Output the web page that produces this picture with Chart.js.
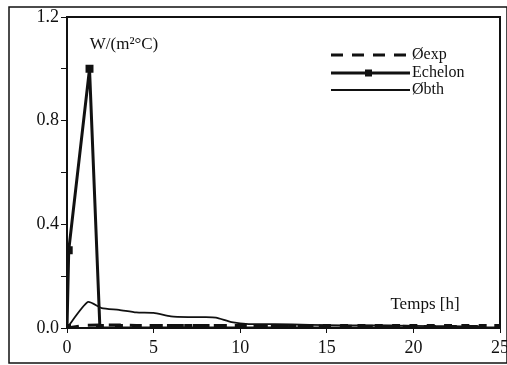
<!DOCTYPE html>
<html>
<head>
<meta charset="utf-8">
<script src="https://cdn.jsdelivr.net/npm/chart.js@4/dist/chart.umd.min.js"></script>
<style>
  html, body { margin: 0; padding: 0; background: #fff; }
  #wrap { width: 507px; height: 365px; }
</style>
</head>
<body>
<div id="wrap"><canvas id="fluxChart" width="507" height="365"></canvas></div>
<script>
// valeurs
const expTimes = [0, 1, 2, 3, 4, 5, 6, 7, 8, 9, 10, 11, 12, 13, 14, 15, 16, 17, 18, 19, 20, 21, 22, 23, 24];
const expValues = [0, 0.01, 0.012, 0.012, 0.01, 0.01, 0.01, 0.01, 0.01, 0.01, 0.01, 0.008, 0.008, 0.008, 0.008, 0.007, 0.007, 0.007, 0.007, 0.007, 0.006, 0.006, 0.006, 0.006, 0.006];

const echelonTimes = [0, 0.1, 1.3, 1.9, 3, 4, 5, 6, 7, 8, 9, 10, 11, 12, 13, 14, 15, 16, 17, 18, 19, 20, 21, 22, 23, 24, 24.9];
const echelonValues = [0, 0.3, 1.0, 0, 0, 0, 0, 0, 0, 0, 0, 0, 0, 0, 0, 0, 0, 0, 0, 0, 0, 0, 0, 0, 0, 0, 0];

const bthTimes = [0, 1.2, 2, 3, 4, 5, 6, 7, 8, 8.6, 9.5, 10.5, 12, 14, 16, 18, 20, 22, 24];
const bthValues = [0, 0.1, 0.077, 0.07, 0.06, 0.058, 0.045, 0.042, 0.042, 0.04, 0.023, 0.015, 0.015, 0.012, 0.01, 0.01, 0.008, 0.007, 0.006];

const xTicks = [0, 5, 10, 15, 20, 25];
const yTickLabels = ['0.0', '0.4', '0.8', '1.2'];

const legendLabels = ['Øexp', 'Echelon', 'Øbth'];
const unitLabel = 'W/(m²°C)';
const timeLabel = 'Temps [h]';

const FONT = '"Liberation Serif", "DejaVu Serif", serif';

function toPoints(xs, ys) {
  return xs.map((x, i) => ({ x: x, y: ys[i] }));
}

// cadre, legende et textes dans le graphique
const decorPlugin = {
  id: 'decor',
  afterDraw(chart) {
    const ctx = chart.ctx;
    const a = chart.chartArea;
    ctx.save();
    ctx.strokeStyle = '#111';
    ctx.lineWidth = 2;
    ctx.strokeRect(a.left, a.top, a.right - a.left, a.bottom - a.top);
    ctx.lineWidth = 1.5;
    ctx.strokeRect(9, 7, chart.width - 9, chart.height - 9);

    ctx.fillStyle = '#111';
    ctx.font = '17px ' + FONT;
    ctx.textBaseline = 'middle';
    ctx.textAlign = 'center';
    ctx.fillText(unitLabel, 124, 45);
    ctx.fillText(timeLabel, 425, 305);

    // legende
    const rows = [55, 73, 90];
    ctx.font = '16px ' + FONT;
    chart.data.datasets.forEach((ds, i) => {
      const y = rows[i];
      ctx.strokeStyle = ds.borderColor;
      ctx.lineWidth = ds.borderWidth;
      ctx.setLineDash(ds.borderDash || []);
      ctx.beginPath();
      ctx.moveTo(331, y);
      ctx.lineTo(410, y);
      ctx.stroke();
      ctx.setLineDash([]);
      if (ds.legendMarker) {
        ctx.fillRect(365, y - 3.5, 7, 7);
      }
      ctx.textAlign = 'left';
      ctx.fillText(legendLabels[i], 412, y);
    });
    ctx.restore();
  }
};

new Chart(document.getElementById('fluxChart'), {
  type: 'line',
  data: {
    datasets: [
      {
        label: legendLabels[0],
        data: toPoints(expTimes, expValues),
        borderColor: '#111',
        borderWidth: 3,
        borderDash: [12, 9],
        pointRadius: 0,
        tension: 0
      },
      {
        label: legendLabels[1],
        data: toPoints(echelonTimes, echelonValues),
        borderColor: '#111',
        backgroundColor: '#111',
        borderWidth: 3,
        pointStyle: 'rect',
        pointRadius: 3.5,
        legendMarker: true,
        tension: 0
      },
      {
        label: legendLabels[2],
        data: toPoints(bthTimes, bthValues),
        borderColor: '#111',
        borderWidth: 1.8,
        pointRadius: 0,
        tension: 0.2
      }
    ]
  },
  options: {
    responsive: false,
    animation: false,
    layout: { padding: { top: 17, right: 5, left: 0, bottom: 0 } },
    plugins: {
      legend: { display: false },
      tooltip: { enabled: false }
    },
    scales: {
      x: {
        type: 'linear',
        min: 0,
        max: 25,
        afterBuildTicks: (scale) => { scale.ticks = xTicks.map(v => ({ value: v })); },
        afterFit: (scale) => { scale.height = 37; scale.paddingRight = 0; scale.paddingLeft = 0; },
        grid: { drawOnChartArea: false, color: '#111', tickLength: 5 },
        border: { color: '#111', width: 2 },
        ticks: {
          color: '#111',
          font: { family: FONT, size: 18 },
          padding: 4,
          maxRotation: 0,
          callback: (v) => String(v)
        }
      },
      y: {
        min: 0,
        max: 1.2,
        afterFit: (scale) => { scale.width = 67; },
        grid: { drawOnChartArea: false, color: '#111', tickLength: 6 },
        border: { color: '#111', width: 2 },
        ticks: {
          stepSize: 0.2,
          color: '#111',
          font: { family: FONT, size: 18 },
          padding: 2,
          callback: (v) => {
            const k = Math.round(v * 10);
            return k % 4 === 0 ? yTickLabels[k / 4] : '';
          }
        }
      }
    }
  },
  plugins: [decorPlugin]
});
</script>
</body>
</html>
